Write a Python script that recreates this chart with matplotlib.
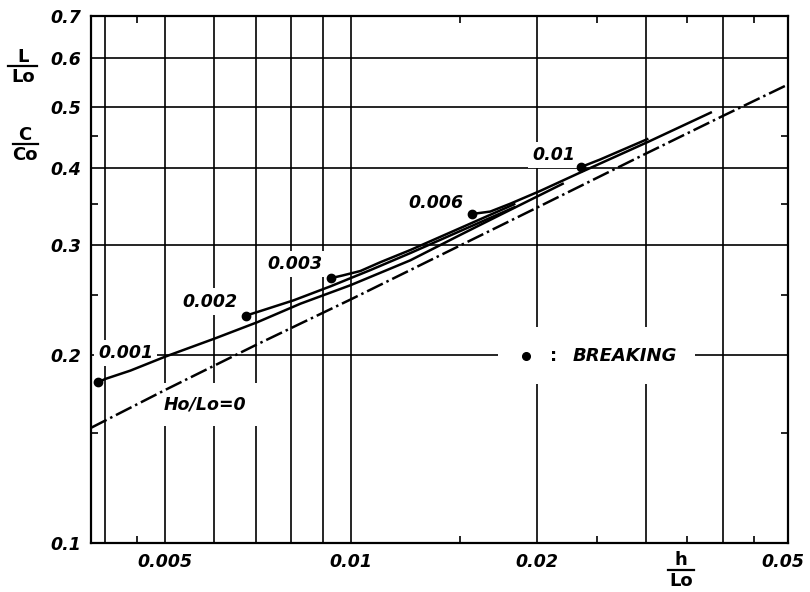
import matplotlib.pyplot as plt
from matplotlib.lines import Line2D
from matplotlib.patches import Rectangle
from matplotlib.ticker import NullFormatter

plt.rcParams['font.family'] = 'DejaVu Sans'

# ------------------------------------------------------
# data: h/Lo vs L/Lo (= C/Co)
# ------------------------------------------------------
# linear theory, Ho/Lo = 0 (dash-dot)
h_lin = [0.00379, 0.005, 0.007, 0.01, 0.02, 0.03, 0.04, 0.0505]
L_lin = [0.153, 0.176, 0.2076, 0.246, 0.345, 0.421, 0.484, 0.541]

# finite amplitude curves, first point = breaking
h_001 = [0.00389, 0.00400, 0.00439, 0.00500, 0.00603, 0.00705, 0.00828, 0.00997, 0.01247, 0.01503, 0.01745, 0.0221]
L_001 = [0.181, 0.1833, 0.189, 0.199, 0.213, 0.226, 0.242, 0.259, 0.284, 0.312, 0.336, 0.3775]

h_002 = [0.00675, 0.00713, 0.00807, 0.00926, 0.01075, 0.01247, 0.01503, 0.01845]
L_002 = [0.2315, 0.2355, 0.245, 0.258, 0.274, 0.2917, 0.3165, 0.346]

h_003 = [0.00926, 0.00968, 0.01035, 0.01115, 0.01247, 0.01503, 0.01845]
L_003 = [0.2658, 0.2685, 0.273, 0.282, 0.295, 0.320, 0.350]

h_006 = [0.0157, 0.0168, 0.0181, 0.02025, 0.0236, 0.0303, 0.0384]
L_006 = [0.337, 0.340, 0.350, 0.367, 0.3935, 0.440, 0.491]

h_01 = [0.0236, 0.0253, 0.0303]
L_01 = [0.401, 0.412, 0.445]

curve_labels = ["0.001", "0.002", "0.003", "0.006", "0.01"]
label_x = [0.00389, 0.00533, 0.00732, 0.01238, 0.01965]
label_y = [0.2017, 0.2438, 0.280, 0.3505, 0.419]

grid_x = [0.004, 0.005, 0.006, 0.007, 0.008, 0.009, 0.01, 0.02, 0.03, 0.04]
grid_y = [0.2, 0.3, 0.4, 0.5, 0.6]
xticks = [0.005, 0.01, 0.02, 0.05]
xtick_labels = ["0.005", "0.01", "0.02", "0.05"]
yticks = [0.1, 0.2, 0.3, 0.4, 0.5, 0.6, 0.7]
ytick_labels = ["0.1", "0.2", "0.3", "0.4", "0.5", "0.6", "0.7"]
xminor = [0.0045, 0.015, 0.025, 0.035, 0.045]
yminor = [0.15, 0.25, 0.35, 0.45]

# ------------------------------------------------------
# figure
# ------------------------------------------------------
fig = plt.figure(figsize=(8.1, 5.92), dpi=100)
ax = fig.add_axes([91 / 810, 49 / 592, 697 / 810, 527 / 592])
ax.set_xscale('log')
ax.set_yscale('log')
ax.set_xlim(0.00379, 0.051)
ax.set_ylim(0.1, 0.7)

for gx in grid_x:
    ax.axvline(gx, color='black', lw=1.2, zorder=1)
for gy in grid_y:
    ax.axhline(gy, color='black', lw=1.2, zorder=1)

ax.plot(h_lin, L_lin, color='black', lw=1.8, linestyle=(0, (7, 1.6, 1, 1.6)), zorder=3)
for hs, Ls in [(h_001, L_001), (h_002, L_002), (h_003, L_003), (h_006, L_006), (h_01, L_01)]:
    ax.plot(hs, Ls, color='black', lw=1.8, zorder=3, solid_capstyle='butt',
            solid_joinstyle='round')
    ax.plot(hs[0], Ls[0], 'o', color='black', ms=6, zorder=4)

lab_font = dict(style='italic', weight='bold', size=12.5)
for txt, lx, ly in zip(curve_labels, label_x, label_y):
    ax.text(lx, ly, txt, ha='left', va='center', zorder=2,
            bbox=dict(facecolor='white', edgecolor='none', pad=3), **lab_font)
ax.text(0.00497, 0.1665, "Ho/Lo=0", ha='left', va='center', zorder=2,
        bbox=dict(facecolor='white', edgecolor='none', pad=9), **lab_font)

# breaking legend
ax.add_patch(Rectangle((0.584, 0.302), 0.283, 0.108, transform=ax.transAxes,
                       facecolor='white', edgecolor='none', zorder=2))
ax.plot([0.624], [0.3548], 'o', color='black', ms=5.5, transform=ax.transAxes, zorder=4)
ax.text(0.663, 0.3548, ":", transform=ax.transAxes, ha='center', va='center',
        zorder=4, weight='bold', size=13)
ax.text(0.6915, 0.3548, "BREAKING", transform=ax.transAxes, ha='left', va='center',
        zorder=4, style='italic', weight='bold', size=13)

# ticks
ax.set_xticks(xticks, xtick_labels)
ax.set_yticks(yticks, ytick_labels)
ax.set_xticks(xminor, minor=True)
ax.set_yticks(yminor, minor=True)
ax.xaxis.set_minor_formatter(NullFormatter())
ax.yaxis.set_minor_formatter(NullFormatter())
ax.tick_params(which='major', length=0, pad=7)
ax.tick_params(which='minor', direction='in', length=5, width=1.2,
               top=True, right=True)
for lab in ax.get_xticklabels() + ax.get_yticklabels():
    lab.set_fontstyle('italic')
    lab.set_fontweight('bold')
    lab.set_fontsize(12.5)
for sp in ax.spines.values():
    sp.set_linewidth(1.6)


# axis labels drawn as stacked fractions
def fraction(num, den, cx, y_num, y_bar, y_den, x0, x1):
    fig.text(cx / 810, 1 - y_num / 592, num, ha='center', va='center', weight='bold', size=13)
    fig.text(cx / 810, 1 - y_den / 592, den, ha='center', va='center', weight='bold', size=13)
    fig.add_artist(Line2D([x0 / 810, x1 / 810], [1 - y_bar / 592] * 2,
                          transform=fig.transFigure, color='black', lw=1.6))


fraction("L", "Lo", 23, 57, 66, 77, 8, 37)
fraction("C", "Co", 25, 135, 144, 155, 13, 38)
fraction("h", "Lo", 681, 560, 569.5, 581, 668, 694)

fig.savefig("out.png", dpi=100)
